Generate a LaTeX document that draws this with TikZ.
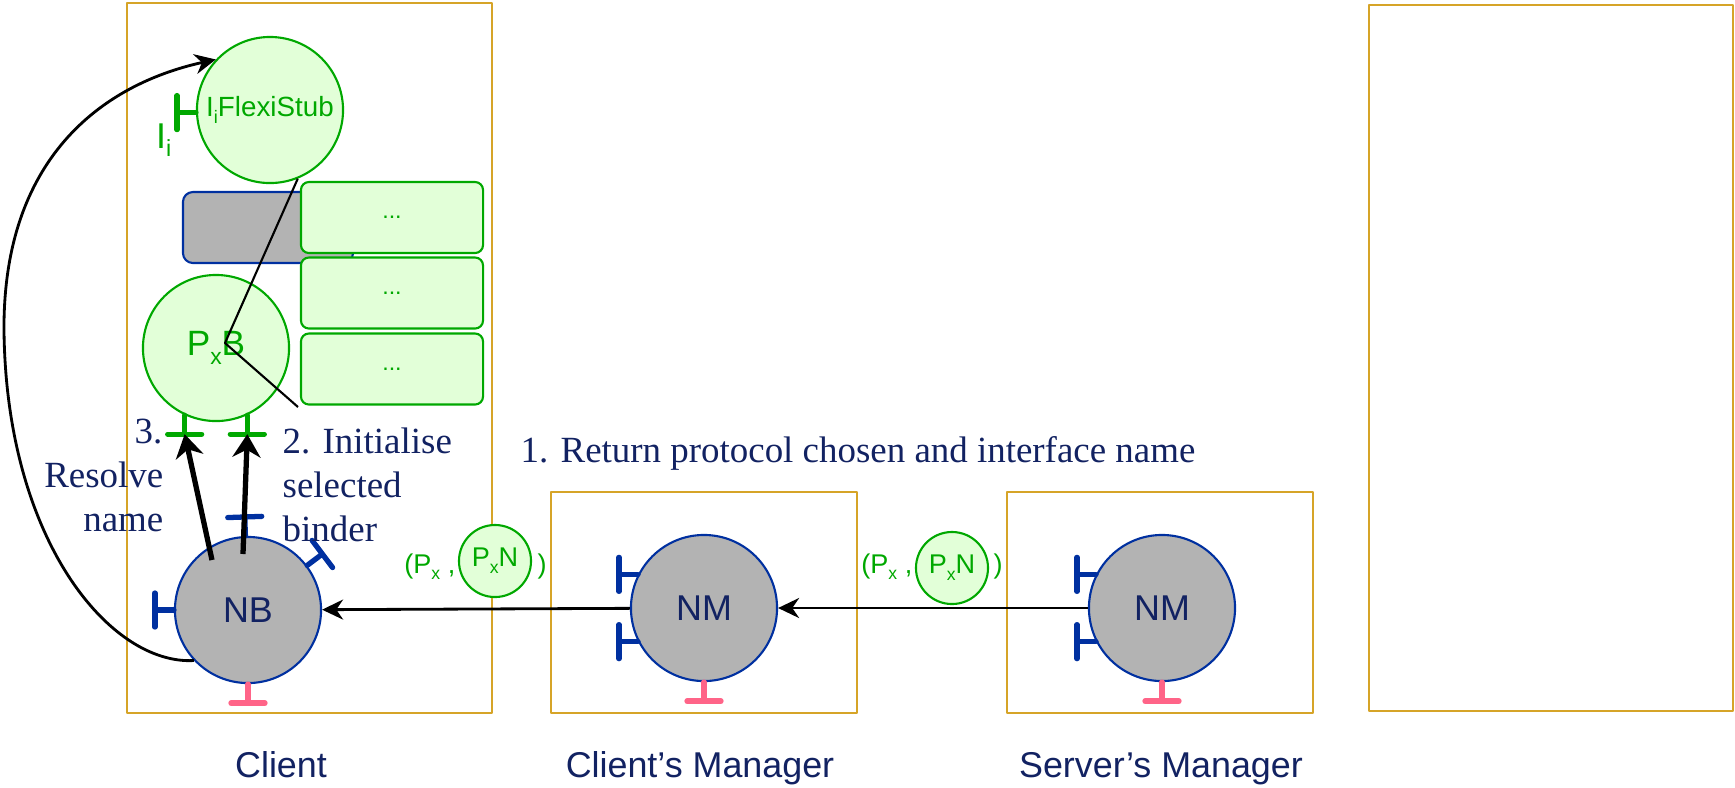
\documentclass[tikz,border=0pt]{standalone}
\usepackage{fontspec}
\setmainfont{Liberation Serif}
\setsansfont{Liberation Sans}
\usetikzlibrary{arrows.meta}
\definecolor{hostgold}{RGB}{214,164,40}
\definecolor{navy}{RGB}{18,34,98}
\definecolor{compblue}{RGB}{0,48,160}
\definecolor{compgray}{RGB}{179,179,179}
\definecolor{bindgreen}{RGB}{0,168,0}
\definecolor{bindfill}{RGB}{226,255,216}
\definecolor{portpink}{RGB}{255,100,136}
\newcommand\lowsub[1]{\raisebox{-0.25em}{\scalebox{0.65}{#1}}}
\begin{document}
\begin{tikzpicture}[x=0.01cm, y=0.01cm, line join=round,
  host/.style={draw=hostgold, line width=0.6pt},
  comp/.style={circle, draw=compblue, fill=compgray, line width=0.6pt, minimum size=1.46cm, inner sep=0pt,
    text=navy, font=\sffamily\fontsize{10.2pt}{12pt}\selectfont},
  binder/.style={circle, draw=bindgreen, fill=bindfill, line width=0.6pt, minimum size=1.46cm, inner sep=0pt,
    text=bindgreen, font=\sffamily\fontsize{10pt}{12pt}\selectfont},
  slot/.style={draw=bindgreen, fill=bindfill, rounded corners=0.08cm, line width=0.6pt, minimum width=1.82cm,
    minimum height=0.71cm, text=bindgreen, font=\sffamily\fontsize{6.6pt}{8pt}\selectfont},
  proxy/.style={draw=compblue, fill=compgray, rounded corners=0.1cm, line width=0.6pt, minimum width=1.7cm, minimum height=0.71cm},
  note/.style={text=navy, inner sep=0pt, font=\fontsize{10.5pt}{12.5pt}\selectfont},
  caption/.style={text=navy, inner sep=0pt, font=\sffamily\fontsize{10.2pt}{12pt}\selectfont},
  tuple/.style={text=bindgreen, inner sep=0pt, font=\sffamily\fontsize{7.7pt}{9pt}\selectfont},
  flow/.style={line width=0.8pt, -{Stealth[length=0.21cm,width=0.2cm]}},
  bigflow/.style={line width=1.5pt, -{Stealth[length=0.23cm,width=0.28cm]}},
  port/.pic={\draw[line width=1.5pt, line cap=round] (0,0) -- (19,0) (19,-17) -- (19,17); \coordinate (-tip) at (19,0);}]
\useasboundingbox (0,0) rectangle (1735,-787);
% hosts
\draw[host] (127,-3) rectangle (492,-713);
\draw[host] (551,-492) rectangle (857,-713);
\draw[host] (1007,-492) rectangle (1313,-713);
\draw[host] (1369,-5) rectangle (1733,-711);
\node[caption, anchor=base] (client) at (281,-777) {Client};
\node[caption, anchor=base] (cman) at (700,-777) {Client’s Manager};
\node[caption, anchor=base] (sman) at (1161,-777) {Server’s Manager};
% binders inside the client
\node[proxy] (proxy) at (268,-227.5) {};
\node[slot] (slot1) at (392,-217.5) {...};
\node[slot] (slot2) at (392,-293) {...};
\node[slot] (slot3) at (392,-369) {...};
\node[binder, font=\sffamily\fontsize{7.9pt}{9pt}\selectfont] (stub) at (270,-110) {\raisebox{-0.8ex}{I\lowsub{i}FlexiStub}};
\node[binder] (pxb) at (216,-348) {P\lowsub{x}B};
\node[comp] (nb) at (248,-610) {NB};
\node[comp] (nm1) at (704,-608) {NM};
\node[comp] (nm2) at (1162,-608) {NM};
% ports
\pic[bindgreen, rotate=180] at (stub.182) {port};
\node[text=bindgreen, inner sep=0pt, anchor=base east, font=\sffamily\fontsize{10.2pt}{12pt}\selectfont] (ii) at (172,-148) {I\lowsub{i}};
\pic[bindgreen, rotate=-90] (pl) at (pxb.245) {port};
\pic[bindgreen, rotate=-90] (pr) at (pxb.295) {port};
\pic[compblue, rotate=92] at (nb.92) {port};
\pic[compblue, rotate=37] at (nb.37) {port};
\pic[compblue, rotate=180] at (nb.180) {port};
\pic[portpink, rotate=-90] at (nb.270) {port};
\foreach \m in {nm1,nm2}{
  \pic[compblue, rotate=180] at (\m.153) {port};
  \pic[compblue, rotate=180] at (\m.207) {port};
  \pic[portpink, rotate=-90] at (\m.270) {port};
}
% connectors
\coordinate (kink) at (225,-343);
\coordinate (callend) at (298,-407);
\draw[line width=0.6pt] (stub.292) -- (kink) -- (callend);
\draw[flow] (nm2) -- (nm1);
\draw[flow] (nm1) -- (nb);
\draw[bigflow] ([shift={(-36,50)}]nb.center) -- (pl-tip);
\draw[bigflow] ([shift={(-5,56)}]nb.center) -- (pr-tip);
\draw[flow] (nb.223) .. controls (110,-665) and (6,-540) .. (4,-330)
  .. controls (3,-160) and (100,-85) .. (stub.137);
% tuples
\node[tuple, anchor=base east] (t1a) at (456,-573) {(P\lowsub{x} ,};
\node[binder, minimum size=0.72cm, font=\sffamily\fontsize{7.7pt}{9pt}\selectfont] (t1) at (495,-561) {P\lowsub{x}N};
\node[tuple, anchor=base west] (t1b) at (537,-573) {)};
\node[tuple, anchor=base east] (t2a) at (913,-573) {(P\lowsub{x} ,};
\node[binder, minimum size=0.72cm, font=\sffamily\fontsize{7.7pt}{9pt}\selectfont] (t2) at (952,-568) {P\lowsub{x}N};
\node[tuple, anchor=base west] (t2b) at (993,-573) {)};
% notes
\node[note, anchor=east] (three) at (163,-432) {3.};
\node[note, anchor=east, align=right] (resolve) at (164,-497) {Resolve\\name};
\node[note, anchor=west, align=left] (init) at (282,-485) {2. Initialise\\selected\\binder};
\node[note, anchor=base west] (ret) at (520,-462) {1. Return protocol chosen and interface name};
\end{tikzpicture}
\end{document}
